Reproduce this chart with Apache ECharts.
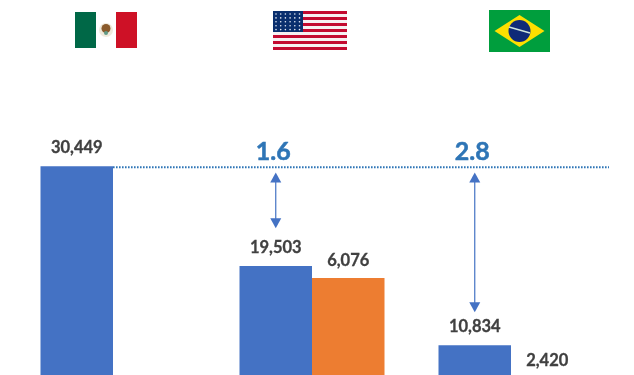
<!DOCTYPE html>
<html>
<head>
<meta charset="utf-8">
<style>
  html, body { margin: 0; padding: 0; background: #fff; }
  #chart { width: 634px; height: 375px; }
</style>
<script src="https://cdn.jsdelivr.net/npm/echarts@6/dist/echarts.min.js"></script>
</head>
<body>
<div id="chart"></div>
<script>
const countries = ['Mexico', 'United States', 'Brazil'];
const blueValues = [30449, 19503, 10834];
const orangeValues = [null, 6076, 2420];
const ratioLabels = [null, '1.6', '2.8'];
const arrowTops = [null, 29750, 29750];
const arrowBottoms = [null, 23650, 14450];
const ratioLabelValue = 32000;

const barW = 72.5;
const fmt = (p) => p.value.toLocaleString('en-US');

// bars run past the bottom of the picture, so the grid does too
const grid = { left: 13.5, width: 597, top: 79, height: 365, outerBoundsMode: 'none' };

const valueLabel = {
  show: true,
  position: 'top',
  formatter: fmt,
  color: '#404040',
  fontFamily: 'Lato',
  fontWeight: 'bold',
  fontSize: 16.5,
  textBorderColor: '#404040',
  textBorderWidth: 0.3
};

function flagRects() {
  let els = [];
  let rect = (x, y, width, height, fill) => els.push({ type: 'rect', shape: { x, y, width, height }, style: { fill }, silent: true });
  let dot = (cx, cy, r, fill) => els.push({ type: 'circle', shape: { cx, cy, r }, style: { fill }, silent: true });

  // Mexico
  rect(75, 12, 21, 36, '#006847');
  rect(116, 12, 21, 36, '#ce1126');
  dot(106, 30, 7, '#efeadc');
  dot(106, 28.5, 4.5, '#8a5a2b');
  dot(106, 33, 2, '#5f9a86');

  // USA
  for (let i = 0; i < 13; i++) {
    rect(273, 11 + i * 3, 74, 3, i % 2 ? '#f6f0f2' : '#c30a30');
  }
  rect(273, 11, 30, 21, '#0a2f6e');
  for (let r = 0; r < 5; r++) {
    for (let c = 0; c < 6; c++) {
      dot(276 + c * 4.7, 14 + r * 3.9, 0.8, '#e6ecf5');
    }
  }

  // Brazil
  rect(489, 10, 61, 42, '#009e3d');
  els.push({ type: 'polygon', shape: { points: [[519.5, 15], [544.5, 31], [519.5, 47], [494.5, 31]] }, style: { fill: '#fedf00' }, silent: true });
  dot(519.5, 31, 11, '#0f2a78');
  els.push({ type: 'line', shape: { x1: 509, y1: 27, x2: 530, y2: 33 }, style: { stroke: '#cfe6dc', lineWidth: 1.5 }, silent: true });
  return els;
}

const chart = echarts.init(document.getElementById('chart'));
chart.setOption({
  animation: false,
  backgroundColor: '#fff',
  grid,
  graphic: flagRects(),
  xAxis: { type: 'category', data: countries, show: false },
  yAxis: [
    { type: 'value', min: 0, max: 40000, show: false },
    { type: 'value', min: 0, max: 13360, show: false }
  ],
  series: [
    {
      type: 'bar',
      data: blueValues,
      barWidth: barW,
      barGap: 0,
      itemStyle: { color: '#4472c4' },
      label: { ...valueLabel, distance: 10 }
    },
    {
      type: 'bar',
      yAxisIndex: 1,
      data: orangeValues,
      barWidth: barW,
      barGap: 0,
      itemStyle: { color: '#ed7d31' },
      label: { ...valueLabel, distance: 9 }
    },
    {
      // dotted reference line from the top of the Mexico bar, then the arrows and ratios
      type: 'custom',
      silent: true,
      clip: false,
      data: countries.map((c, i) => i),
      renderItem(params, api) {
        let i = params.dataIndex;
        let cs = params.coordSys;
        let children = [];
        if (i === 0) {
          let p = api.coord([0, blueValues[0]]);
          children.push({
            type: 'line',
            shape: { x1: p[0], y1: p[1] + 1, x2: cs.x + cs.width - 1.5, y2: p[1] + 1 },
            style: { stroke: '#2e75b6', lineWidth: 2, lineDash: [1.6, 1.4] }
          });
          return { type: 'group', children };
        }
        let x = api.coord([i, 0])[0] - barW / 2;
        let top = api.coord([i, arrowTops[i]])[1];
        let bottom = api.coord([i, arrowBottoms[i]])[1];
        children.push({
          type: 'line',
          shape: { x1: x, y1: top + 8, x2: x, y2: bottom - 8 },
          style: { stroke: '#4472c4', lineWidth: 1.2 }
        });
        children.push({
          type: 'polygon',
          shape: { points: [[x, top], [x + 5.5, top + 10], [x - 5.5, top + 10]] },
          style: { fill: '#4472c4' }
        });
        children.push({
          type: 'polygon',
          shape: { points: [[x, bottom], [x + 5.5, bottom - 10], [x - 5.5, bottom - 10]] },
          style: { fill: '#4472c4' }
        });
        children.push({
          type: 'text',
          style: {
            x: x - 2.5,
            y: api.coord([i, ratioLabelValue])[1],
            text: ratioLabels[i],
            align: 'center',
            verticalAlign: 'middle',
            fill: '#2e75b6',
            stroke: '#2e75b6',
            lineWidth: 0.5,
            fontFamily: 'Lato',
            fontWeight: 'bold',
            fontSize: 25
          }
        });
        return { type: 'group', children };
      }
    }
  ]
});
</script>
</body>
</html>
